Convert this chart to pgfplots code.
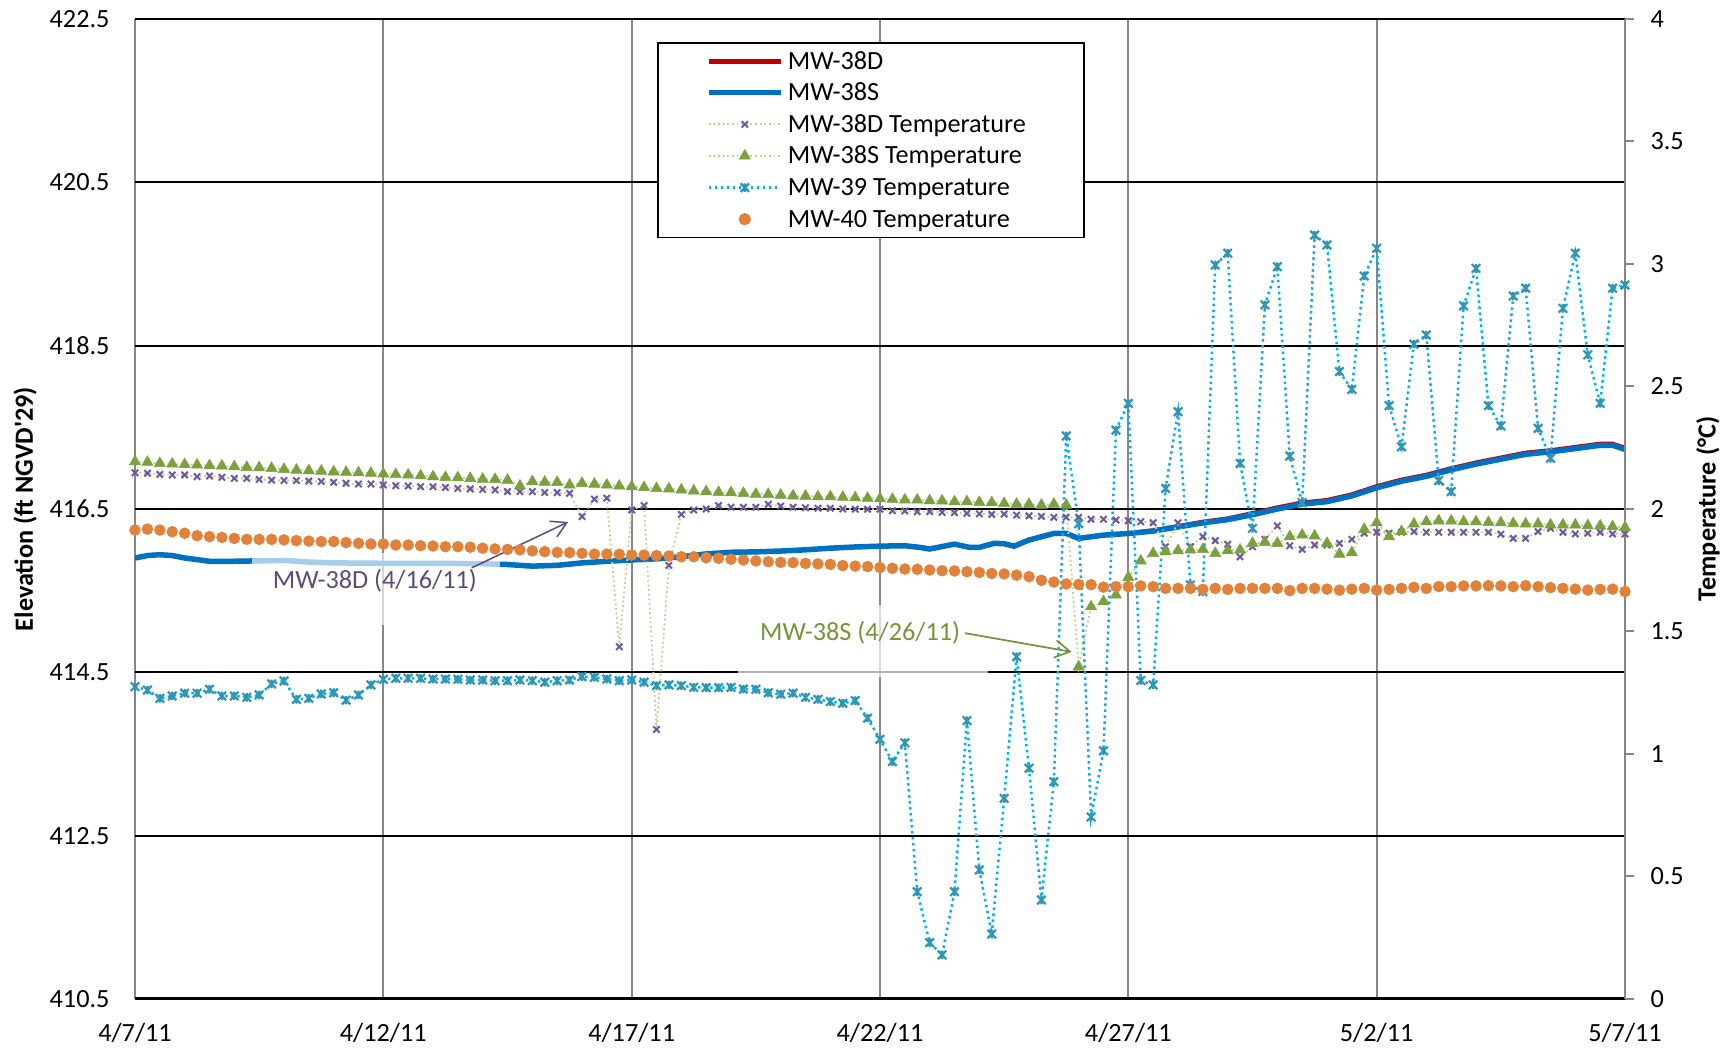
\documentclass[border=0pt]{standalone}
\usepackage{fontspec}
\setmainfont{Carlito}
\usepackage{pgfplots}
\pgfplotsset{compat=1.18}
\usepackage{pgfplotstable}
\usetikzlibrary{arrows.meta}

\definecolor{cRed}{RGB}{192,0,0}
\definecolor{cBlue}{RGB}{0,112,192}
\definecolor{cPurp}{RGB}{112,88,160}
\definecolor{cPurpT}{RGB}{96,74,123}
\definecolor{cGreen}{RGB}{125,160,62}
\definecolor{cGreenT}{RGB}{119,147,60}
\definecolor{cLGreen}{RGB}{190,210,150}
\definecolor{cCyan}{RGB}{0,176,240}
\definecolor{cTeal}{RGB}{49,150,180}
\definecolor{cOrange}{RGB}{226,130,58}
\definecolor{cGrid}{RGB}{134,134,134}

\pgfdeclareplotmark{xstar}{%
  \pgfpathmoveto{\pgfqpoint{-\pgfplotmarksize}{-\pgfplotmarksize}}%
  \pgfpathlineto{\pgfqpoint{\pgfplotmarksize}{\pgfplotmarksize}}%
  \pgfpathmoveto{\pgfqpoint{-\pgfplotmarksize}{\pgfplotmarksize}}%
  \pgfpathlineto{\pgfqpoint{\pgfplotmarksize}{-\pgfplotmarksize}}%
  \pgfpathmoveto{\pgfqpoint{0pt}{-\pgfplotmarksize}}%
  \pgfpathlineto{\pgfqpoint{0pt}{\pgfplotmarksize}}%
  \pgfusepathqstroke}

\newcommand\lentry[1]{\makebox[98pt][l]{#1}}

\pgfplotstableread{
day d38 s38
0 415.90 415.90
0.25 415.93 415.93
0.5 415.94 415.94
0.75 415.93 415.93
1 415.90 415.90
1.5 415.86 415.86
2 415.86 415.86
2.5 415.865 415.865
3 415.87 415.87
3.5 415.85 415.85
4 415.84 415.84
5 415.835 415.835
6 415.835 415.835
7 415.83 415.83
7.5 415.82 415.82
8 415.80 415.80
8.5 415.81 415.81
9 415.84 415.84
9.5 415.86 415.86
10 415.876 415.876
10.5 415.89 415.89
11 415.915 415.915
11.5 415.95 415.95
12 415.97 415.97
12.5 415.975 415.975
13 415.985 415.985
13.5 416.00 416.00
14 416.02 416.02
14.5 416.035 416.035
15 416.045 416.045
15.5 416.05 416.05
15.8 416.03 416.03
16 416.01 416.01
16.5 416.07 416.07
16.8 416.03 416.03
17 416.03 416.03
17.3 416.08 416.08
17.5 416.075 416.075
17.7 416.045 416.045
18 416.12 416.12
18.5 416.20 416.20
18.75 416.20 416.20
19 416.14 416.14
19.5 416.18 416.18
20 416.20 416.20
20.5 416.24 416.23
21 416.29 416.28
21.5 416.345 416.33
22 416.385 416.37
22.5 416.45 416.43
23 416.52 416.50
23.5 416.58 416.56
24 416.61 416.59
24.5 416.68 416.66
25 416.78 416.76
25.5 416.86 416.84
26 416.92 416.90
26.5 417.00 416.98
27 417.07 417.05
27.5 417.13 417.11
28 417.19 417.17
28.5 417.22 417.20
29 417.26 417.24
29.5 417.30 417.28
29.75 417.30 417.28
30 417.25 417.23
}\elevtable

\pgfplotstableread{
day t38d t38s t39 t40
0 2.148 2.193 1.275 1.914
0.25 2.146 2.191 1.261 1.918
0.5 2.141 2.186 1.227 1.914
0.75 2.139 2.184 1.237 1.907
1 2.139 2.182 1.248 1.901
1.25 2.132 2.180 1.248 1.891
1.5 2.135 2.177 1.264 1.887
1.75 2.129 2.176 1.237 1.884
2 2.125 2.173 1.237 1.880
2.25 2.125 2.170 1.231 1.876
2.5 2.121 2.169 1.241 1.876
2.75 2.118 2.166 1.286 1.876
3 2.116 2.162 1.298 1.874
3.25 2.116 2.159 1.223 1.871
3.5 2.114 2.157 1.227 1.869
3.75 2.112 2.155 1.245 1.867
4 2.109 2.152 1.250 1.867
4.25 2.105 2.150 1.220 1.863
4.5 2.102 2.148 1.241 1.860
4.75 2.102 2.146 1.282 1.857
5 2.098 2.143 1.305 1.857
5.25 2.095 2.141 1.309 1.853
5.5 2.094 2.139 1.309 1.853
5.75 2.091 2.136 1.309 1.850
6 2.091 2.132 1.306 1.849
6.25 2.088 2.129 1.306 1.846
6.5 2.084 2.128 1.305 1.846
6.75 2.082 2.125 1.302 1.844
7 2.080 2.122 1.302 1.840
7.25 2.078 2.121 1.299 1.837
7.5 2.071 2.118 1.299 1.835
7.75 2.071 2.094 1.302 1.833
8 2.071 2.112 1.299 1.829
8.25 2.067 2.110 1.293 1.826
8.5 2.067 2.109 1.299 1.823
8.75 2.064 2.098 1.302 1.822
9 1.969 2.105 1.316 1.819
9.25 2.040 2.102 1.313 1.816
9.5 2.044 2.098 1.306 1.816
9.75 1.438 2.094 1.299 1.815
10 1.996 2.091 1.302 1.812
10.25 2.014 2.088 1.293 1.812
10.5 1.100 2.084 1.279 1.810
10.75 1.770 2.082 1.282 1.808
11 1.978 2.078 1.279 1.805
11.25 1.996 2.074 1.272 1.805
11.5 2.000 2.071 1.271 1.801
11.75 2.014 2.068 1.271 1.799
12 2.007 2.067 1.272 1.795
12.25 2.007 2.064 1.265 1.792
12.5 2.007 2.061 1.264 1.788
12.75 2.019 2.060 1.250 1.785
13 2.012 2.057 1.244 1.782
13.25 2.007 2.054 1.248 1.781
13.5 2.005 2.053 1.231 1.778
13.75 2.003 2.050 1.223 1.776
14 2.003 2.050 1.214 1.774
14.25 2.000 2.048 1.207 1.769
14.5 1.999 2.046 1.218 1.767
14.75 1.999 2.044 1.146 1.765
15 1.999 2.042 1.060 1.761
15.25 1.993 2.040 0.969 1.758
15.5 1.992 2.037 1.046 1.755
15.75 1.989 2.037 0.438 1.754
16 1.989 2.034 0.230 1.751
16.25 1.986 2.033 0.180 1.748
16.5 1.985 2.030 0.438 1.747
16.75 1.982 2.030 1.136 1.744
17 1.980 2.027 0.527 1.741
17.25 1.978 2.026 0.265 1.737
17.5 1.979 2.023 0.819 1.735
17.75 1.975 2.020 1.397 1.730
18 1.972 2.019 0.942 1.724
18.25 1.970 2.016 0.404 1.709
18.5 1.966 2.020 0.887 1.702
18.75 1.966 2.016 2.298 1.694
19 1.966 1.356 1.940 1.692
19.25 1.958 1.601 0.743 1.691
19.5 1.958 1.622 1.013 1.681
19.75 1.955 1.649 2.322 1.683
20 1.952 1.721 2.431 1.683
20.25 1.948 1.788 1.300 1.686
20.5 1.944 1.819 1.282 1.683
20.75 1.846 1.826 2.084 1.676
21 1.944 1.830 2.397 1.676
21.25 1.846 1.833 1.690 1.676
21.5 1.887 1.835 1.663 1.672
21.75 1.871 1.819 2.996 1.676
22 1.856 1.830 3.044 1.672
22.25 1.805 1.833 2.186 1.676
22.5 1.846 1.860 1.921 1.676
22.75 1.876 1.864 2.833 1.676
23 1.931 1.860 2.989 1.676
23.25 1.850 1.887 2.216 1.667
23.5 1.835 1.894 2.026 1.676
23.75 1.853 1.890 3.118 1.676
24 1.853 1.860 3.078 1.673
24.25 1.860 1.816 2.561 1.669
24.5 1.876 1.822 2.488 1.673
24.75 1.901 1.917 2.951 1.676
25 1.905 1.944 3.064 1.669
25.25 1.901 1.887 2.422 1.672
25.5 1.905 1.908 2.254 1.676
25.75 1.908 1.939 2.673 1.680
26 1.905 1.948 2.710 1.676
26.25 1.905 1.952 2.116 1.683
26.5 1.905 1.951 2.071 1.683
26.75 1.905 1.948 2.829 1.686
27 1.905 1.948 2.982 1.686
27.25 1.905 1.945 2.422 1.687
27.5 1.897 1.944 2.339 1.686
27.75 1.880 1.941 2.869 1.683
28 1.880 1.939 2.901 1.687
28.25 1.908 1.939 2.329 1.683
28.5 1.921 1.935 2.207 1.679
28.75 1.905 1.935 2.819 1.676
29 1.898 1.935 3.044 1.673
29.25 1.901 1.932 2.629 1.669
29.5 1.905 1.931 2.431 1.672
29.75 1.898 1.928 2.901 1.673
30 1.898 1.925 2.914 1.663
30.25 nan nan 2.600 nan
}\temptable

\begin{document}
\begin{tikzpicture}[font=\fontsize{10.5}{12.6}\selectfont]
\useasboundingbox (0,0) rectangle (694pt,420pt);
\begin{axis}[
  at={(54pt,20.4pt)}, anchor=south west,
  scale only axis, width=596pt, height=392pt,
  xmin=0, xmax=30, ymin=410.5, ymax=422.5,
  xtick={0,5,10,15,20,25,30},
  xticklabels={4/7/11,4/12/11,4/17/11,4/22/11,4/27/11,5/2/11,5/7/11},
  ytick={410.5,412.5,414.5,416.5,418.5,420.5,422.5},
  /pgf/number format/assume math mode=true,
  axis line style={draw=none},
  major tick length=0pt,
  grid=major,
  x grid style={cGrid, line width=0.8pt},
  y grid style={black, line width=0.8pt},
  xticklabel style={inner sep=0pt, yshift=-9.5pt},
  yticklabel style={/pgf/number format/fixed, /pgf/number format/fixed zerofill, /pgf/number format/precision=1, inner sep=0pt, xshift=-10pt},
  ylabel={\bfseries Elevation (ft NGVD\textquotesingle 29)},
  ylabel style={at={(axis description cs:-0.0738,0.5)}, anchor=center},
]
\addplot[cRed, line width=1.6pt] table[x=day, y=d38] {\elevtable};
\addplot[cBlue, line width=2.2pt] table[x=day, y=s38] {\elevtable};
\fill[white, fill opacity=0.65] (axis cs:2.356,415.961) rectangle (axis cs:7.35,415.08);
\fill[white, fill opacity=0.7] (axis cs:12.14,415.325) rectangle (axis cs:17.17,414.443);
\end{axis}

\begin{axis}[
  at={(54pt,20.4pt)}, anchor=south west,
  scale only axis, width=596pt, height=392pt,
  xmin=0, xmax=30, ymin=0, ymax=4,
  axis x line*=bottom, axis y line*=right,
  x axis line style={black, line width=1.2pt, -},
  y axis line style={cGrid, line width=0.8pt, -},
  xtick=\empty,
  ytick={0,0.5,1,1.5,2,2.5,3,3.5,4},
  tick align=outside,
  major tick length=3.6pt,
  ytick style={cGrid, line width=0.8pt},
  /pgf/number format/assume math mode=true,
  yticklabel style={inner sep=0pt, xshift=6.4pt},
  ylabel={\bfseries Temperature (°C)},
  ylabel style={at={(axis description cs:1.0557,0.5)}, anchor=center},
  legend style={at={(axis description cs:0.3503,0.9765)}, anchor=north west,
    draw=black, line width=0.7pt, fill=white,
    inner xsep=19.4pt, inner ysep=1pt,
    nodes={inner xsep=1pt, inner ysep=0.5pt, text height=9pt, text depth=2.64pt},
    /tikz/column sep=0.8pt},
  legend cell align=left,
  legend image code/.code={\draw[mark repeat=2, mark phase=2, #1] plot coordinates {(0pt,0pt) (14.4pt,0pt) (28.8pt,0pt)};},
  legend entries={\lentry{MW-38D}, \lentry{MW-38S}, \lentry{MW-38D Temperature}, \lentry{MW-38S Temperature}, \lentry{MW-39 Temperature}, \lentry{MW-40 Temperature}},
]
\addlegendimage{cRed, line width=2pt}
\addlegendimage{cBlue, line width=2pt}
\addplot[cLGreen, line width=0.75pt, dash pattern=on 0.75pt off 1.1pt,
  mark=x, mark size=1.8pt, mark options={solid, draw=cPurp, line width=0.8pt}]
  table[x=day, y=t38d] {\temptable};
\addplot[cLGreen, line width=0.75pt, dash pattern=on 0.75pt off 1.1pt,
  mark=triangle*, mark size=2.6pt, mark options={solid, draw=cGreen, fill=cGreen, line width=0.2pt}]
  table[x=day, y=t38s] {\temptable};
\addplot[cCyan, line width=1pt, dash pattern=on 1pt off 1.4pt,
  mark=xstar, mark size=1.7pt, mark options={solid, draw=cTeal, line width=0.9pt}]
  table[x=day, y=t39] {\temptable};
\addplot[only marks, mark=*, mark size=2.1pt, mark options={draw=cOrange, fill=cOrange}]
  table[x=day, y=t40] {\temptable};
\node[text=cPurpT, anchor=center] at (axis cs:4.83,1.7067) {MW-38D (4/16/11)};
\draw[cPurpT, line width=0.6pt, -{Straight Barb[length=6pt,width=7pt]}] (axis cs:6.78,1.760) -- (axis cs:8.72,1.9467);
\node[text=cGreenT, anchor=center] at (axis cs:14.6,1.495) {MW-38S (4/26/11)};
\draw[cGreenT, line width=0.7pt, -{Straight Barb[length=6pt,width=7pt]}] (axis cs:16.71,1.4933) -- (axis cs:18.86,1.4167);
\end{axis}
\end{tikzpicture}
\end{document}
